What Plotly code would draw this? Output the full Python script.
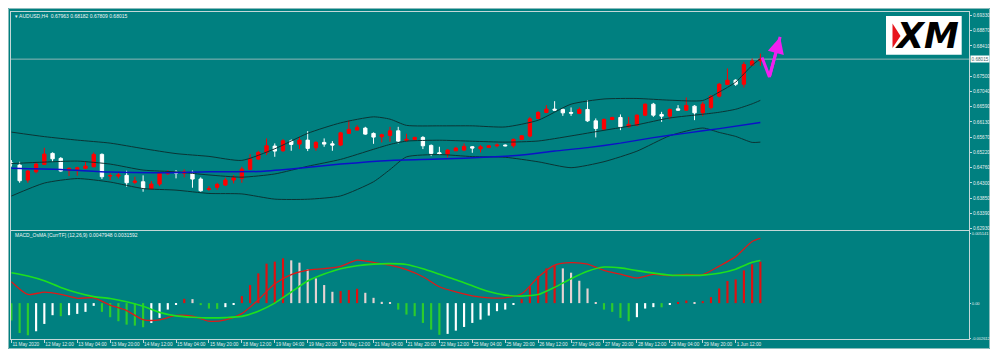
import plotly.graph_objects as go

# ---------------- data ----------------
bars = list(range(92))
opens = [0.64903, 0.64837, 0.64388, 0.64637, 0.64858, 0.65188, 0.65038, 0.64679, 0.64709, 0.64739,
         0.64787, 0.65158, 0.64508, 0.64508, 0.64529, 0.64319, 0.64337, 0.64128, 0.64268, 0.64577,
         0.64628, 0.64589, 0.64619, 0.64418, 0.64110, 0.64170, 0.64238, 0.64388, 0.64439, 0.64709,
         0.65017, 0.65218, 0.65407, 0.65266, 0.65565, 0.65466, 0.65586, 0.65356, 0.65517, 0.65475,
         0.65436, 0.65787, 0.65886, 0.65946, 0.65787, 0.65688, 0.65727, 0.65865, 0.65577, 0.65607,
         0.65667, 0.65427, 0.65206, 0.65167, 0.65266, 0.65287, 0.65387, 0.65326, 0.65368, 0.65416,
         0.65437, 0.65416, 0.65607, 0.65706, 0.66236, 0.66416, 0.66515, 0.66506, 0.66416, 0.66386,
         0.66506, 0.66164, 0.65916, 0.66206, 0.66266, 0.65985, 0.66036, 0.66335, 0.66664, 0.66356,
         0.66305, 0.66524, 0.66485, 0.66605, 0.66404, 0.66565, 0.66904, 0.67254, 0.67383, 0.67263,
         0.67832, 0.67963]
highs = [0.64987, 0.64936, 0.64688, 0.64936, 0.65356, 0.65218, 0.65077, 0.64769, 0.64787, 0.64936,
         0.65218, 0.65188, 0.64589, 0.64607, 0.64667, 0.64487, 0.64529, 0.64358, 0.64637, 0.64688,
         0.64688, 0.64709, 0.64673, 0.64469, 0.64208, 0.64307, 0.64457, 0.64538, 0.64787, 0.65167,
         0.65266, 0.65637, 0.65487, 0.65616, 0.65607, 0.65685, 0.65856, 0.65556, 0.65637, 0.65556,
         0.65835, 0.66185, 0.66036, 0.65985, 0.65817, 0.65778, 0.65985, 0.65985, 0.65778, 0.65685,
         0.65706, 0.65457, 0.65387, 0.65317, 0.65387, 0.65487, 0.65407, 0.65437, 0.65437, 0.65487,
         0.65457, 0.65637, 0.65736, 0.66284, 0.66455, 0.66635, 0.66754, 0.66536, 0.66566, 0.66566,
         0.66784, 0.66236, 0.66236, 0.66284, 0.66356, 0.66284, 0.66356, 0.66685, 0.66703, 0.66434,
         0.66536, 0.66635, 0.66865, 0.66635, 0.66733, 0.66934, 0.67302, 0.67734, 0.67413, 0.67931,
         0.68033, 0.68182]
lows = [0.64792, 0.64307, 0.64307, 0.64589, 0.64837, 0.64936, 0.64637, 0.64508, 0.64517, 0.64718,
        0.64769, 0.64418, 0.64388, 0.64439, 0.64188, 0.64268, 0.64038, 0.64110, 0.64208, 0.64538,
        0.64439, 0.64469, 0.64158, 0.64038, 0.64068, 0.64089, 0.64208, 0.64289, 0.64307, 0.64688,
        0.64987, 0.65137, 0.65086, 0.65236, 0.65266, 0.65317, 0.65257, 0.65266, 0.65387, 0.65266,
        0.65407, 0.65775, 0.65877, 0.65745, 0.65475, 0.65517, 0.65535, 0.65487, 0.65535, 0.65586,
        0.65317, 0.65107, 0.65158, 0.65068, 0.65257, 0.65257, 0.65206, 0.65218, 0.65356, 0.65368,
        0.65398, 0.65356, 0.65586, 0.65667, 0.66206, 0.66395, 0.66476, 0.66314, 0.66314, 0.66365,
        0.66134, 0.65667, 0.65886, 0.66185, 0.65886, 0.65967, 0.66006, 0.66305, 0.66284, 0.66134,
        0.66206, 0.66464, 0.66464, 0.66185, 0.66305, 0.66506, 0.66865, 0.67233, 0.67212, 0.67164,
        0.67811, 0.67809]
closes = [0.64882, 0.64367, 0.64658, 0.64867, 0.65167, 0.65026, 0.64658, 0.64739, 0.64757, 0.64808,
          0.65158, 0.64487, 0.64523, 0.64538, 0.64307, 0.64358, 0.64140, 0.64268, 0.64589, 0.64637,
          0.64598, 0.64637, 0.64418, 0.64068, 0.64128, 0.64259, 0.64388, 0.64457, 0.64718, 0.65026,
          0.65218, 0.65416, 0.65257, 0.65565, 0.65457, 0.65586, 0.65338, 0.65517, 0.65466, 0.65436,
          0.65805, 0.65907, 0.65967, 0.65766, 0.65676, 0.65748, 0.65865, 0.65556, 0.65607, 0.65667,
          0.65416, 0.65188, 0.65167, 0.65287, 0.65347, 0.65398, 0.65347, 0.65386, 0.65416, 0.65437,
          0.65416, 0.65607, 0.65715, 0.66224, 0.66416, 0.66515, 0.66485, 0.66404, 0.66395, 0.66506,
          0.66164, 0.65935, 0.66206, 0.66266, 0.65985, 0.66057, 0.66335, 0.66664, 0.66335, 0.66305,
          0.66506, 0.66485, 0.66626, 0.66404, 0.66664, 0.66904, 0.67263, 0.67383, 0.67263, 0.67853,
          0.67960, 0.68015]

band_bars = [0, 4, 8, 12, 16, 20, 24, 28, 32, 36, 40, 44, 46, 48, 52, 56, 60, 64, 68, 72, 76, 80, 84, 86, 88, 90, 91]
bb_upper = [0.65826, 0.65691, 0.65586, 0.65496, 0.65332, 0.65182, 0.65098, 0.64978, 0.65326, 0.65790,
            0.66104, 0.66284, 0.66215, 0.66029, 0.66014, 0.66014, 0.65981, 0.66182, 0.66664, 0.66820,
            0.66835, 0.66784, 0.66775, 0.67027, 0.67326, 0.67829, 0.68030]
bb_middle = [0.64882, 0.64927, 0.64957, 0.64867, 0.64688, 0.64634, 0.64541, 0.64475, 0.64571, 0.64802,
             0.65008, 0.65311, 0.65457, 0.65556, 0.65583, 0.65553, 0.65526, 0.65559, 0.65712, 0.65880,
             0.66045, 0.66251, 0.66362, 0.66422, 0.66512, 0.66674, 0.66778]
bb_lower = [0.63909, 0.64298, 0.64433, 0.64328, 0.64133, 0.64086, 0.63987, 0.63972, 0.63816, 0.63813,
            0.63912, 0.64337, 0.64703, 0.65083, 0.65152, 0.65092, 0.65071, 0.64936, 0.64759, 0.64939,
            0.65254, 0.65718, 0.65949, 0.65817, 0.65697, 0.65517, 0.65526]

ma_bars = [0, 6, 12, 18, 24, 30, 34, 40, 46, 52, 58, 62, 66, 70, 74, 78, 82, 86, 91]
ma_values = [0.64739, 0.64703, 0.64628, 0.64607, 0.64637, 0.64643, 0.64718, 0.64867, 0.64978, 0.65017,
             0.65077, 0.65137, 0.65257, 0.65361, 0.65496, 0.65661, 0.65796, 0.65931, 0.66116]

macd_bars = list(range(0, 91, 2)) + [91]
macd_main = [0.001587, 0.000641, 0.000820, 0.000656, 0.000358, 0.000395, -0.000149, -0.000551, -0.001222,
             -0.001244, -0.000909, -0.000961, -0.001341, -0.001244, -0.000782, 0.000246, 0.001438, 0.002108,
             0.002444, 0.002555, 0.002727, 0.003189, 0.003017, 0.002816, 0.002481, 0.001959, 0.001214,
             0.000827, 0.000544, 0.000395, 0.000395, 0.000693, 0.001922, 0.002816, 0.003002, 0.002891,
             0.002429, 0.002146, 0.001870, 0.002131, 0.002034, 0.002131, 0.002116, 0.002742, 0.003449,
             0.004567, 0.0047948]
macd_signal = [0.002257, 0.002012, 0.001661, 0.001162, 0.000767, 0.000484, 0.000343, 0.000097, -0.000238,
               -0.000685, -0.000946, -0.001043, -0.001095, -0.001073, -0.000983, -0.000596, 0.0, 0.000827,
               0.001646, 0.002161, 0.002555, 0.002779, 0.002891, 0.002928, 0.002868, 0.002555, 0.002146,
               0.001736, 0.001289, 0.000864, 0.000596, 0.000522, 0.000633, 0.001170, 0.001810, 0.002362,
               0.002675, 0.002615, 0.002414, 0.002228, 0.002079, 0.002056, 0.002079, 0.002220, 0.002518,
               0.003025, 0.0031592]
osma_hist = [-0.001296, -0.002213, -0.002384, -0.002086, -0.001542, -0.000894, -0.000969, -0.000894, -0.000797,
             -0.000648, -0.000201, -0.000648, -0.001043, -0.001341, -0.001594, -0.001669, -0.001788, -0.001468,
             -0.001095, -0.000477, -0.000127, 0.000320, 0.000298, -0.000149, -0.000402, -0.000425, -0.000298,
             -0.000104, 0.000522, 0.001341, 0.002205, 0.002928, 0.003077, 0.003323, 0.003174, 0.003002,
             0.002503, 0.001833, 0.001341, 0.000842, 0.000894, 0.000969, 0.001065, 0.000767, 0.000395,
             0.000097, 0.000030, -0.000477, -0.000849, -0.000969, -0.001468, -0.001967, -0.002350, -0.002280,
             -0.002041, -0.001766, -0.001468, -0.001222, -0.000924, -0.000596, -0.000477, -0.000104, 0.000320,
             0.001214, 0.002012, 0.002578, 0.002801, 0.002578, 0.002257, 0.001661, 0.001088, 0.000020,
             -0.000477, -0.000648, -0.001095, -0.001341, -0.001043, -0.000402, -0.000298, -0.000310, -0.000127,
             0.000020, 0.000194, 0.000030, 0.000149, 0.000447, 0.001088, 0.001639, 0.001758, 0.002429,
             0.002876, 0.003077]

price_ticks = [0.69330, 0.68870, 0.68410, 0.67500, 0.67040, 0.66590, 0.66130, 0.65670,
               0.65220, 0.64760, 0.64300, 0.63850, 0.63390, 0.62930]
macd_ticks = [0.005141, 0.0, -0.002612]
macd_tick_text = ["0.005141", "0.00", "-0.002612"]
time_tick_bars = list(range(0, 89, 4))
time_labels = ["11 May 2020", "12 May 12:00", "13 May 04:00", "13 May 20:00", "14 May 12:00",
               "15 May 04:00", "15 May 20:00", "18 May 12:00", "19 May 04:00", "19 May 20:00",
               "20 May 12:00", "21 May 04:00", "21 May 20:00", "22 May 12:00", "25 May 04:00",
               "25 May 20:00", "26 May 12:00", "27 May 04:00", "27 May 20:00", "28 May 12:00",
               "29 May 04:00", "29 May 20:00", "1 Jun 12:00"]
symbol = "AUDUSD,H4"
last_price = 0.68015
forecast_bars = [91.2, 92.1, 93.4]
forecast_prices = [0.68063, 0.67482, 0.68680]

# ---------------- styling ----------------
# the page body adds an 8px offset; the figure spans the teal block of the reference
OFF = 8
W, H = 982, 341
ML, MR, MT, MB = 3, 21, 4, 10
PW, PH = W - ML - MR, H - MT - MB
TEAL = "#008080"
FRAME = "#c4d8d8"
TXT = "#e4eeee"
FONT = "Liberation Sans"
TICK_SIZE = 4.7


def px_x(x):
    """page pixel x -> paper fraction"""
    return (x - OFF - ML) / PW


def px_y(y):
    """page pixel y -> paper fraction"""
    return (H - MB - (y - OFF)) / PH


RED_B, LIGHT_B, GREEN_B, WHITE_B = "#e01010", "#e6d2d2", "#2ccc2c", "#ffffff"
hist_colors = []
prev = None
for v in osma_hist:
    rising = prev is not None and v >= prev
    if v > 0:
        hist_colors.append(RED_B if rising else LIGHT_B)
    else:
        hist_colors.append(WHITE_B if rising else GREEN_B)
    prev = v

fig = go.Figure()

fig.add_trace(go.Candlestick(
    x=bars, open=opens, high=highs, low=lows, close=closes,
    increasing=dict(fillcolor="#ff0000", line=dict(color="#ff0000", width=1)),
    decreasing=dict(fillcolor="#ffffff", line=dict(color="#ffffff", width=1)),
    whiskerwidth=0, xaxis="x", yaxis="y", showlegend=False, hoverinfo="skip"))

for band in (bb_upper, bb_middle, bb_lower):
    fig.add_trace(go.Scatter(x=band_bars, y=band, mode="lines",
                             line=dict(color="#0b3434", width=1, shape="spline", smoothing=0.6),
                             xaxis="x", yaxis="y", showlegend=False, hoverinfo="skip"))

fig.add_trace(go.Scatter(x=ma_bars, y=ma_values, mode="lines",
                         line=dict(color="#0c12c8", width=1.5, shape="spline", smoothing=0.6),
                         xaxis="x", yaxis="y", showlegend=False, hoverinfo="skip"))

fig.add_trace(go.Scatter(x=forecast_bars, y=forecast_prices, mode="lines",
                         line=dict(color="#f020f0", width=3),
                         xaxis="x", yaxis="y", showlegend=False, hoverinfo="skip"))

fig.add_trace(go.Bar(x=bars, y=osma_hist, width=0.26, marker=dict(color=hist_colors, line=dict(width=0)),
                     xaxis="x2", yaxis="y2", showlegend=False, hoverinfo="skip"))
fig.add_trace(go.Scatter(x=macd_bars, y=macd_main, mode="lines",
                         line=dict(color="#e01818", width=1.3, shape="spline", smoothing=0.7),
                         xaxis="x2", yaxis="y2", showlegend=False, hoverinfo="skip"))
fig.add_trace(go.Scatter(x=macd_bars, y=macd_signal, mode="lines",
                         line=dict(color="#1ee01e", width=1.6, shape="spline", smoothing=0.7),
                         xaxis="x2", yaxis="y2", showlegend=False, hoverinfo="skip"))

main_bottom = px_y(230)
macd_top = px_y(231)

axis_common = dict(showgrid=False, zeroline=False, showline=True, mirror=True, automargin=False,
                   tickangle=0, linecolor=FRAME, linewidth=1, fixedrange=True)

fig.update_layout(
    template="none",
    width=W, height=H, margin=dict(l=ML, r=MR, t=MT, b=MB, pad=0, autoexpand=False),
    paper_bgcolor=TEAL, plot_bgcolor=TEAL, showlegend=False, boxgap=0.42,
    font=dict(family=FONT, size=TICK_SIZE, color=TXT),
    xaxis=dict(domain=[0, 1], anchor="y", range=[-0.05, 116.35], showticklabels=False, ticks="",
               rangeslider=dict(visible=False), **axis_common),
    xaxis2=dict(domain=[0, 1], anchor="y2", matches="x", tickvals=time_tick_bars, ticktext=time_labels,
                ticks="outside", ticklen=3, tickcolor=FRAME, ticklabelposition="outside right",
                tickfont=dict(size=TICK_SIZE, color=TXT, family=FONT), **axis_common),
    yaxis=dict(domain=[main_bottom, 1], anchor="x", side="right", range=[0.62890, 0.69429],
               tickvals=price_ticks, ticktext=[f"{p:.5f}" for p in price_ticks],
               ticks="outside", ticklen=2, tickcolor=FRAME,
               tickfont=dict(size=TICK_SIZE, color=TXT, family=FONT), **axis_common),
    yaxis2=dict(domain=[0, macd_top], anchor="x2", side="right", range=[-0.00266, 0.00535],
                tickvals=macd_ticks, ticktext=macd_tick_text,
                ticks="outside", ticklen=1, tickcolor=FRAME,
                tickfont=dict(size=4.0, color=TXT, family=FONT), **axis_common),
)

shapes = [
    dict(type="rect", xref="paper", yref="paper", x0=px_x(8.5), x1=px_x(989.5), y0=px_y(348.5), y1=px_y(8.5),
         fillcolor="rgba(0,0,0,0)", line=dict(color="#8cbcbc", width=1), layer="below"),
    dict(type="line", xref="x domain", yref="y", x0=0, x1=1, y0=last_price, y1=last_price,
         line=dict(color="#8eb6b6", width=1), layer="below"),
    # XM logo
    dict(type="rect", xref="paper", yref="paper", x0=px_x(886), x1=px_x(961.7),
         y0=px_y(54.7), y1=px_y(16), fillcolor="white", line=dict(width=0), layer="above"),
    dict(type="path", xref="paper", yref="paper",
         path=f"M {px_x(892.5)} {px_y(23.5)} L {px_x(900.5)} {px_y(36)} L {px_x(892.5)} {px_y(48)} Z",
         fillcolor="#e8141c", line=dict(width=0), layer="above"),
]
fig.update_layout(shapes=shapes)

annotations = [
    dict(xref="paper", yref="paper", x=px_x(12.5), y=px_y(15.5), xanchor="left", yanchor="middle",
         showarrow=False, text=f"\u25be {symbol}  {opens[-1]:.5f} {highs[-1]:.5f} {lows[-1]:.5f} {closes[-1]:.5f}",
         font=dict(size=5.0, color="#f0f6f6", family=FONT)),
    dict(xref="paper", yref="paper", x=px_x(12.5), y=px_y(234.7), xanchor="left", yanchor="middle",
         showarrow=False,
         text=f"MACD_OsMA [CurrTF] (12,26,9) {macd_main[-1]:.7f} {macd_signal[-1]:.7f}",
         font=dict(size=5.0, color="#f0f6f6", family=FONT)),
    dict(xref="paper", yref="y", x=1, y=last_price, xanchor="left", yanchor="middle", xshift=1,
         showarrow=False, text=f"{last_price:.5f}", bgcolor="white", borderpad=0.5,
         font=dict(size=TICK_SIZE, color="#3d6a6a", family=FONT)),
    dict(xref="x", yref="y", x=forecast_bars[2], y=forecast_prices[2],
         axref="x", ayref="y", ax=forecast_bars[1], ay=forecast_prices[1],
         showarrow=True, arrowhead=2, arrowsize=1.1, arrowwidth=3, arrowcolor="#f020f0", text="",
         standoff=0),
    dict(xref="paper", yref="paper", x=px_x(927), y=px_y(35.5), xanchor="center", yanchor="middle",
         showarrow=False, text="XM",
         font=dict(size=35, color="black", family="DejaVu Sans", weight="bold", style="italic")),
]
fig.update_layout(annotations=annotations)

fig.write_html("out.html")
